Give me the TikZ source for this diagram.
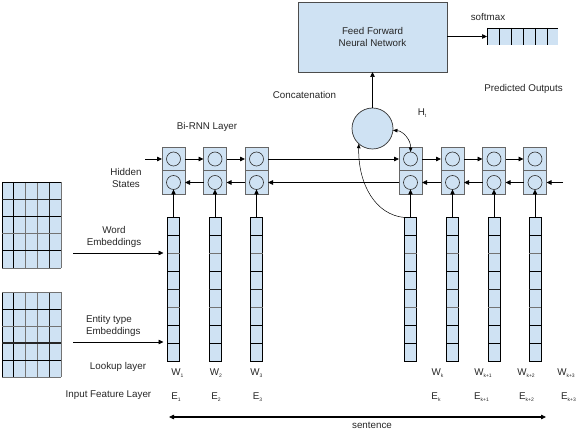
\documentclass[tikz,border=0pt]{standalone}
\usepackage{fontspec}
\setmainfont{Liberation Sans}
\usetikzlibrary{arrows.meta}
\definecolor{cellblue}{RGB}{207,226,243}
\newcommand\sbs[1]{\raisebox{-2.5pt}{\fontsize{5}{5}\selectfont #1}}
\begin{document}
\begin{tikzpicture}[x=1pt,y=-1pt,
  every node/.style={font=\fontsize{9.8}{12}\selectfont, text=black!85, inner sep=0pt, outer sep=0pt},
  arr/.style={-{Triangle[length=5pt,width=4.5pt]}, line width=0.8pt},
  thinarr/.style={-{Triangle[length=4.5pt,width=3.5pt]}, line width=0.5pt},
  halfcell/.style={draw=black!60, fill=cellblue, minimum width=23pt, minimum height=23.5pt, line width=0.7pt},
  unit/.style={circle, draw=black!80, minimum size=14pt, line width=0.6pt},
  colbox/.style={draw=black, fill=cellblue, minimum width=12pt, minimum height=143.5pt, line width=0.9pt, anchor=north},
  bluebox/.style={draw=black!70, fill=cellblue, line width=0.8pt},
  gridline/.style={line width=0.9pt, black},
  gridgray/.style={line width=0.9pt, black!55},
  gridthick/.style={line width=1.3pt, black!85}]
\useasboundingbox (0,0) rectangle (576,430);

% ---------- Bi-RNN cells and embedding columns ----------
\foreach \i/\x in {1/173.5,2/215,3/256.5,4/410.5,5/452.5,6/494,7/535}{
  \node[halfcell] (cu\i) at (\x,159) {};
  \node[halfcell] (cl\i) at (\x,182.5) {};
  \node[unit] (ou\i) at (\x,159) {};
  \node[unit] (ol\i) at (\x,182.5) {};
  \node[colbox] (e\i) at (\x,217.5) {};
  \foreach \k/\st in {1/gridline,2/gridgray,3/gridline,4/gridthick,5/gridgray,6/gridline,7/gridline}
    \draw[\st] (\x-6,217.5+\k*17.94) -- (\x+6,217.5+\k*17.94);
  \draw[arr, line width=0.7pt] (e\i.north) -- (ol\i.south);
}

% forward row
\coordinate (inL) at (145,159);
\draw[arr] (inL) -- (cu1.west);
\foreach \i/\j in {1/2,2/3,3/4,4/5,5/6,6/7}
  \draw[arr] (cu\i.east) -- (cu\j.west);
% backward row
\coordinate (inR) at (563,182.5);
\draw[arr] (inR) -- (cl7.east);
\foreach \i/\j in {7/6,6/5,5/4,4/3,3/2,2/1}
  \draw[arr] (cl\i.west) -- (cl\j.east);

% ---------- concatenation, FFN, softmax ----------
\node[circle, draw=black!80, fill=cellblue, minimum size=41pt, line width=0.7pt] (cat) at (372.5,128.5) {};
\node[bluebox, minimum width=149pt, minimum height=70pt, align=center] (ffn) at (372.5,37) {Feed Forward\\Neural Network};
\draw[arr, line width=0.6pt] (cat.north) -- (ffn.south);

\node[fill=cellblue, minimum width=71pt, minimum height=17pt, anchor=west] (sm) at (487,36.5) {};
\draw[line width=0.7pt] (sm.north west) -- (sm.north east);
\foreach \k in {0,...,5}
  \draw[line width=0.7pt] (487+12*\k,28) -- (487+12*\k,45);
\draw[arr, line width=0.6pt] (ffn.east |- sm.west) -- (sm.west);

\draw[thinarr] (e4.north west) .. controls (376,215) and (358,185) .. (cat.228);
\draw[{Triangle[length=4.5pt,width=3.5pt]}-{Triangle[length=4.5pt,width=3.5pt]}, line width=0.5pt]
  (cat.355) .. controls (403,131) and (411,140) .. (ou4.north);

% ---------- embedding matrices ----------
\node[fill=cellblue, minimum width=59pt, minimum height=86pt, anchor=north west] (m1) at (2,182) {};
\foreach \k/\st in {0/gridline,1/gridline,2/gridgray,3/gridgray,4/gridthick,5/gridgray}
  \draw[\st] (2+11.8*\k,182) -- (2+11.8*\k,268);
\foreach \k/\st in {0/gridline,1/gridthick,2/gridline,3/gridgray,4/gridline,5/gridgray}
  \draw[\st] (2,182+17.2*\k) -- (61,182+17.2*\k);

\node[fill=cellblue, minimum width=59pt, minimum height=85pt, anchor=north west] (m2) at (2,292) {};
\foreach \k/\st in {0/gridline,1/gridline,2/gridgray,3/gridgray,4/gridthick,5/gridgray}
  \draw[\st] (2+11.8*\k,292) -- (2+11.8*\k,377);
\foreach \k/\st in {0/gridgray,1/gridline,2/gridgray,3/gridthick,4/gridline,5/gridgray}
  \draw[\st] (2,292+17*\k) -- (61,292+17*\k);

\coordinate (wsrc) at (73,253);
\coordinate (esrc) at (73,342);
\draw[arr, line width=0.6pt, shorten >=4pt] (wsrc) -- (wsrc -| e1.west);
\draw[arr, line width=0.8pt, shorten >=4pt] (esrc) -- (esrc -| e1.west);

% ---------- labels ----------
\node (lbirnn) at (207,127) {Bi-RNN Layer};
\node[align=center] (lhid) at (126,177.5) {Hidden\\States};
\node[align=center] (lword) at (114,237) {Word\\Embeddings};
\node[align=left, anchor=west] (lent) at (86,326) {Entity type\\Embeddings};
\node (llook) at (118,367) {Lookup layer};
\node (linput) at (108.5,395) {Input Feature Layer};
\node (lconc) at (304.5,95) {Concatenation};
\node (lpred) at (523.5,89) {Predicted Outputs};
\node (lsoft) at (488,17.5) {softmax};
\node (lht) at (422,113) {H\sbs{t}};
\node (lsent) at (372,425) {sentence};

\foreach \x/\t in {177.5/1,216/2,256.5/3,437.5/k,483/k+1,526/k+2,566/k+3}
  \node at (\x,373) {W\sbs{\t}};
\foreach \x/\t in {176/1,216/2,257.5/3,436/k,481.5/k+1,526.5/k+2,568.5/k+3}
  \node at (\x,397) {E\sbs{\t}};

% ---------- sentence arrow ----------
\coordinate (sl) at (169,417);
\coordinate (sr) at (546,417);
\shade[left color=black, middle color=black!20, right color=black] (174,416.4) rectangle (541,417.6);
\draw[-{Triangle[length=5pt,width=4.5pt]}, line width=0.8pt] (176,417) -- (sl);
\draw[-{Triangle[length=5pt,width=4.5pt]}, line width=0.8pt] (539,417) -- (sr);
\end{tikzpicture}
\end{document}
